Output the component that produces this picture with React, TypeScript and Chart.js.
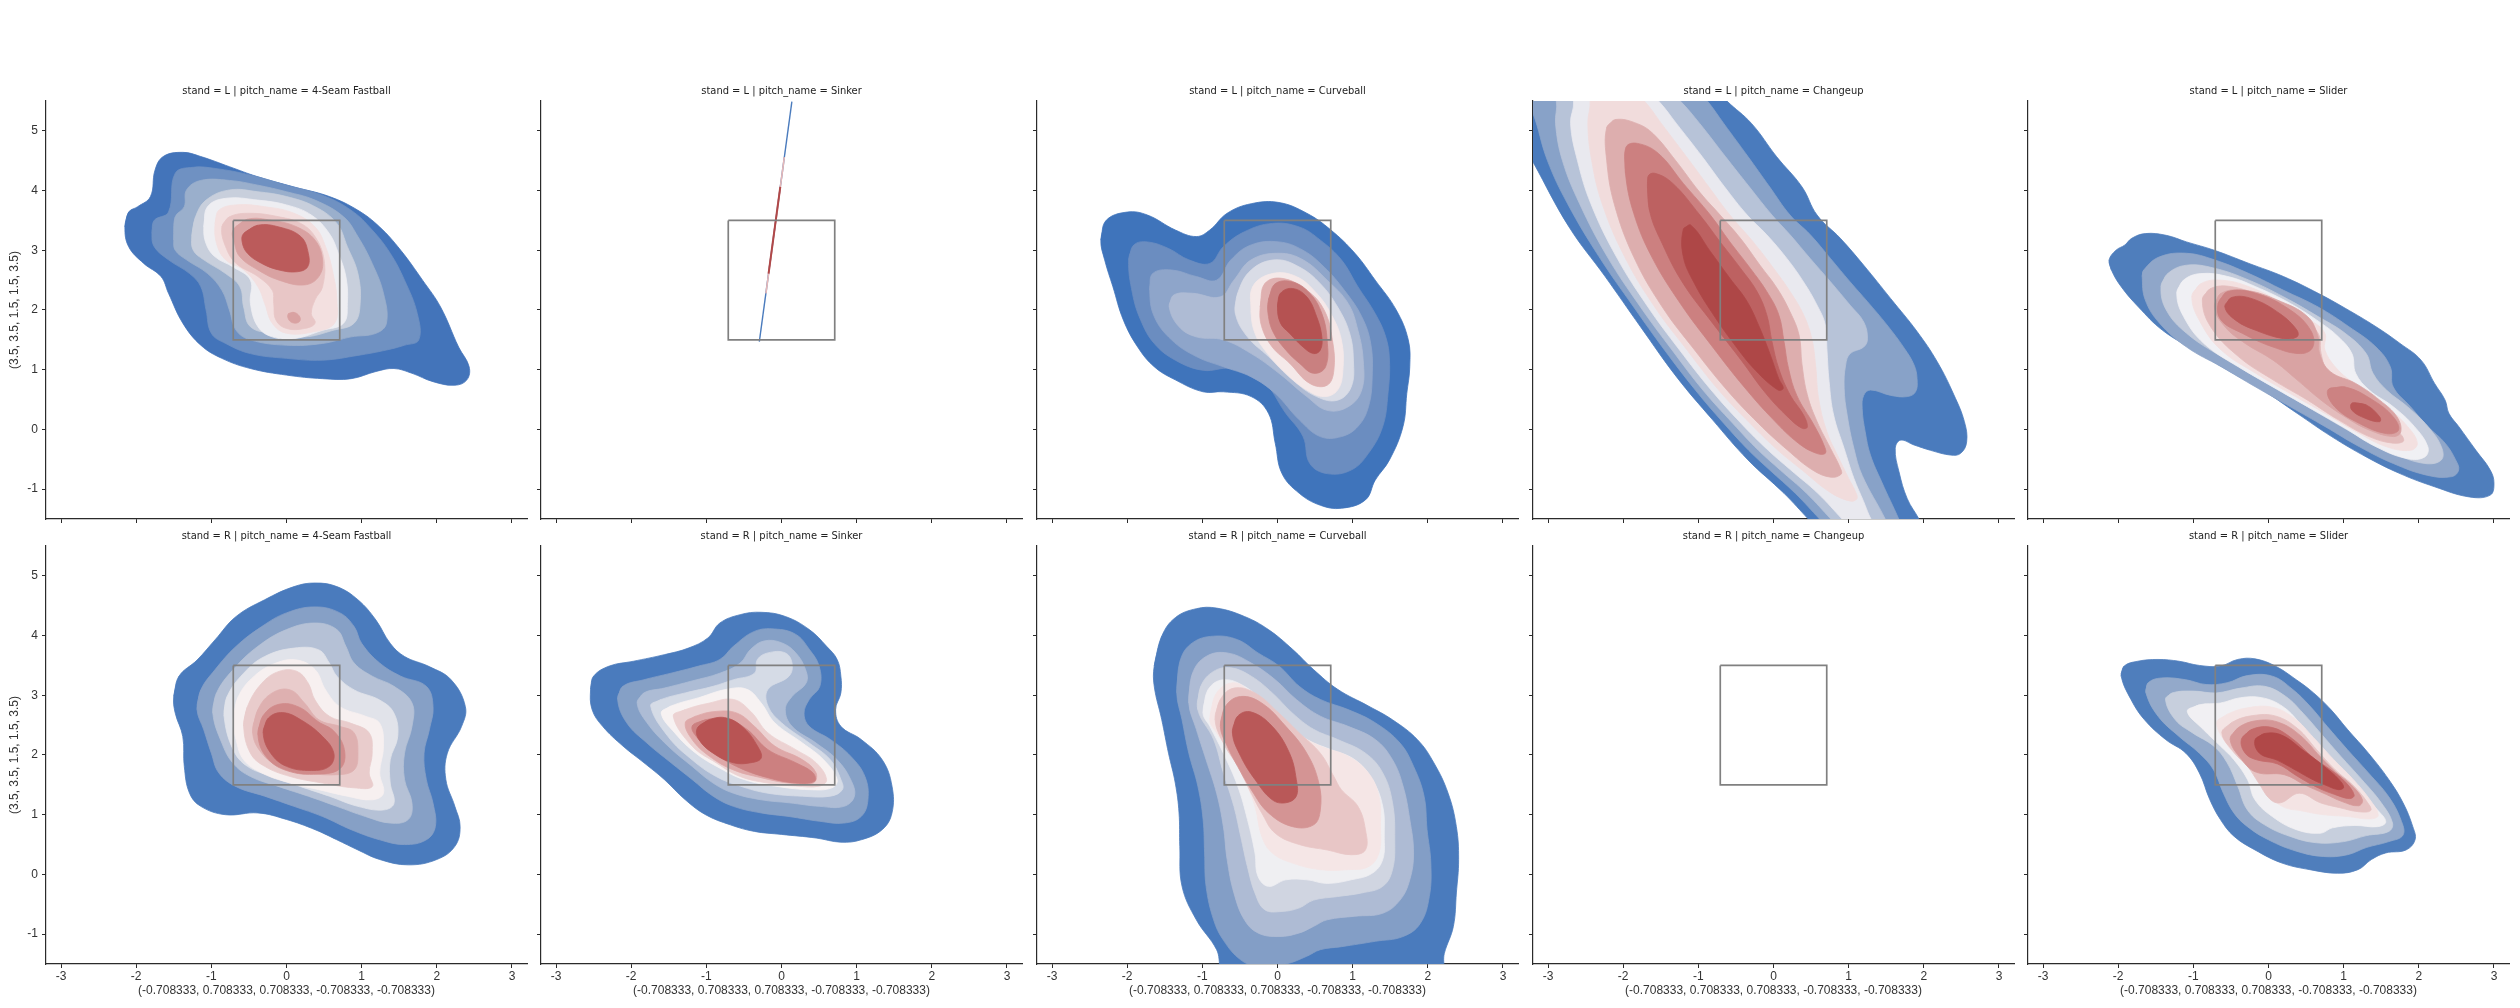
import React, { useEffect, useRef } from 'react';
import { Chart, registerables } from 'chart.js';

Chart.register(...registerables);

type P = [number, number];

// ---------- axes / facets ----------
const X_TICKS = [-3, -2, -1, 0, 1, 2, 3];
const Y_TICKS = [-1, 0, 1, 2, 3, 4, 5];
const X_MIN = -3.2, X_MAX = 3.2, Y_MIN = -1.5, Y_MAX = 5.5;
const STANDS = ['L', 'R'];
const PITCHES = ['4-Seam Fastball', 'Sinker', 'Curveball', 'Changeup', 'Slider'];
const ZONE_X = [-0.708333, 0.708333, 0.708333, -0.708333, -0.708333];
const ZONE_Y = [3.5, 3.5, 1.5, 1.5, 3.5];

// ---------- contour polygons (plate_x, plate_z), outer level -> inner level ----------
const L_FF: P[][] = [
  [[-2.15,3.39],[-2.1,3.64],[-1.98,3.73],[-1.81,3.9],[-1.75,4.34],[-1.64,4.57],[-1.38,4.64],[-1.14,4.57],[-0.76,4.4],[-0.38,4.23],[0.1,4.06],[0.57,3.9],[0.95,3.67],[1.24,3.39],[1.52,3.0],[1.81,2.5],[2.05,2.05],[2.29,1.38],[2.43,1.05],[2.4,0.83],[2.24,0.74],[1.95,0.8],[1.67,0.94],[1.43,1.02],[1.19,0.97],[0.86,0.85],[0.48,0.85],[0,0.91],[-0.48,1.02],[-0.86,1.19],[-1.14,1.41],[-1.38,1.78],[-1.57,2.28],[-1.67,2.56],[-1.9,2.78],[-2.1,3.06]],
  [[-1.79,3.28],[-1.76,3.5],[-1.57,3.64],[-1.48,4.29],[-1.24,4.39],[-0.95,4.37],[-0.48,4.26],[0,4.09],[0.48,3.92],[0.86,3.67],[1.14,3.34],[1.38,2.95],[1.57,2.5],[1.74,1.94],[1.76,1.5],[1.57,1.41],[1.33,1.33],[0.95,1.24],[0.48,1.16],[0,1.19],[-0.48,1.27],[-0.81,1.44],[-1.0,1.61],[-1.07,2.0],[-1.14,2.39],[-1.29,2.61],[-1.57,2.84],[-1.76,3.06]],
  [[-1.5,3.17],[-1.48,3.56],[-1.36,3.73],[-1.33,4.01],[-1.14,4.17],[-0.76,4.17],[-0.38,4.09],[0,3.98],[0.38,3.84],[0.76,3.56],[0.95,3.23],[1.14,2.78],[1.29,2.28],[1.33,1.78],[1.19,1.61],[0.86,1.55],[0.48,1.44],[0,1.41],[-0.48,1.5],[-0.67,1.66],[-0.76,2.0],[-0.86,2.33],[-1.05,2.61],[-1.33,2.84],[-1.48,3.0]],
  [[-1.26,3.23],[-1.21,3.56],[-1.07,3.84],[-0.76,4.01],[-0.38,3.98],[0,3.9],[0.38,3.73],[0.67,3.45],[0.81,3.06],[0.95,2.61],[0.98,2.11],[0.9,1.78],[0.62,1.66],[0.24,1.55],[-0.19,1.61],[-0.48,1.72],[-0.57,2.05],[-0.62,2.39],[-0.81,2.61],[-1.1,2.84],[-1.24,3.0]],
  [[-1.1,3.39],[-1.05,3.73],[-0.81,3.87],[-0.38,3.84],[0,3.76],[0.33,3.59],[0.57,3.28],[0.69,2.95],[0.79,2.56],[0.81,2.11],[0.76,1.78],[0.48,1.66],[0.1,1.52],[-0.19,1.55],[-0.38,1.72],[-0.48,2.11],[-0.48,2.5],[-0.71,2.72],[-0.95,2.89],[-1.07,3.11]],
  [[-0.95,3.45],[-0.9,3.67],[-0.67,3.76],[-0.29,3.73],[0.1,3.62],[0.38,3.39],[0.52,3.06],[0.62,2.61],[0.67,2.17],[0.64,1.78],[0.38,1.64],[0,1.61],[-0.19,1.78],[-0.29,2.11],[-0.38,2.39],[-0.57,2.67],[-0.81,2.84],[-0.93,3.11]],
  [[-0.86,3.39],[-0.76,3.56],[-0.48,3.62],[-0.1,3.56],[0.19,3.45],[0.38,3.23],[0.5,2.84],[0.48,2.39],[0.38,2.17],[0.33,1.94],[0.38,1.78],[0.24,1.69],[0,1.69],[-0.14,1.83],[-0.17,2.11],[-0.19,2.33],[-0.38,2.56],[-0.67,2.78],[-0.81,3.06]],
  [[-0.71,3.34],[-0.52,3.52],[-0.19,3.5],[0.14,3.39],[0.38,3.17],[0.48,2.84],[0.43,2.56],[0.24,2.42],[-0.1,2.5],[-0.38,2.67],[-0.62,2.89],[-0.69,3.11]],
  [[0.02,1.93],[0.1,1.96],[0.17,1.9],[0.18,1.82],[0.12,1.78],[0.04,1.82]],
  [[-0.57,3.28],[-0.38,3.42],[-0.1,3.39],[0.19,3.23],[0.29,2.95],[0.28,2.72],[0.14,2.64],[-0.1,2.67],[-0.33,2.78],[-0.52,2.95],[-0.59,3.14]],
];
const L_FF_LEVELS = [0, 1, 2, 3, 4, 5, 6, 7, 7, 8];

const L_SI_LINES: P[][] = [
  [[-0.295,1.47],[0.138,5.49]],
  [[-0.207,2.28],[0.038,4.56]],
  [[-0.172,2.61],[-0.016,4.06]],
];
const L_SI_LEVELS = [0, 5, 8];

const L_CB: P[][] = [
  [[-2.35,3.17],[-2.28,3.5],[-2.0,3.64],[-1.73,3.59],[-1.36,3.34],[-1.08,3.23],[-0.9,3.34],[-0.67,3.62],[-0.35,3.78],[0.02,3.8],[0.39,3.62],[0.71,3.34],[1.03,2.95],[1.3,2.5],[1.58,2.0],[1.74,1.5],[1.76,1.05],[1.72,0.6],[1.67,0.05],[1.49,-0.51],[1.3,-0.85],[1.17,-1.18],[0.85,-1.32],[0.57,-1.27],[0.29,-1.07],[0.06,-0.74],[-0.03,-0.23],[-0.12,0.27],[-0.35,0.55],[-0.72,0.63],[-0.99,0.63],[-1.36,0.83],[-1.64,1.05],[-1.86,1.38],[-2.05,1.83],[-2.19,2.39],[-2.3,2.84]],
  [[-1.98,2.84],[-1.91,3.09],[-1.73,3.14],[-1.45,3.03],[-1.18,2.84],[-0.9,2.78],[-0.72,3.06],[-0.44,3.31],[-0.07,3.45],[0.29,3.39],[0.57,3.17],[0.85,2.84],[1.07,2.39],[1.3,1.94],[1.44,1.55],[1.49,1.16],[1.47,0.6],[1.4,0.05],[1.21,-0.4],[0.98,-0.68],[0.66,-0.74],[0.43,-0.57],[0.34,-0.12],[0.11,0.27],[-0.21,0.83],[-0.62,1.02],[-0.99,0.99],[-1.36,1.16],[-1.64,1.44],[-1.82,1.83],[-1.93,2.28]],
  [[-1.7,2.33],[-1.66,2.61],[-1.41,2.67],[-1.08,2.56],[-0.81,2.5],[-0.62,2.84],[-0.35,3.09],[0.02,3.14],[0.34,3.0],[0.62,2.72],[0.89,2.33],[1.12,1.89],[1.24,1.44],[1.26,0.88],[1.21,0.38],[1.07,0.05],[0.85,-0.12],[0.57,-0.12],[0.29,0.16],[-0.03,0.6],[-0.35,0.88],[-0.72,1.05],[-1.08,1.22],[-1.41,1.5],[-1.64,1.89]],
  [[-1.44,2.05],[-1.38,2.25],[-1.13,2.28],[-0.76,2.22],[-0.58,2.5],[-0.35,2.84],[0.02,2.95],[0.34,2.84],[0.66,2.5],[0.94,2.11],[1.07,1.66],[1.14,1.16],[1.12,0.66],[0.94,0.38],[0.66,0.32],[0.39,0.55],[0.02,0.94],[-0.35,1.27],[-0.72,1.5],[-1.08,1.55],[-1.31,1.72]],
  [[-0.56,1.94],[-0.53,2.28],[-0.35,2.67],[-0.03,2.84],[0.29,2.72],[0.57,2.44],[0.8,2.05],[0.96,1.61],[1.01,1.16],[0.98,0.71],[0.8,0.49],[0.52,0.55],[0.2,0.83],[-0.12,1.22],[-0.4,1.55]],
  [[-0.35,1.94],[-0.33,2.39],[-0.07,2.61],[0.25,2.56],[0.52,2.28],[0.71,1.94],[0.85,1.5],[0.87,0.99],[0.8,0.66],[0.62,0.55],[0.39,0.66],[0.11,0.94],[-0.17,1.33],[-0.3,1.61]],
  [[-0.23,2.05],[-0.17,2.44],[0.06,2.53],[0.39,2.33],[0.62,2.0],[0.73,1.5],[0.75,0.99],[0.66,0.74],[0.43,0.77],[0.16,1.11],[-0.07,1.38],[-0.21,1.72]],
  [[-0.12,2.17],[-0.03,2.44],[0.2,2.47],[0.43,2.28],[0.59,1.94],[0.66,1.5],[0.64,1.05],[0.48,0.94],[0.29,1.11],[0.11,1.33],[-0.05,1.61],[-0.12,1.89]],
  [[0.0,2.05],[0.04,2.28],[0.2,2.36],[0.39,2.22],[0.52,1.89],[0.59,1.55],[0.57,1.33],[0.48,1.27],[0.34,1.38],[0.16,1.61],[0.04,1.78]],
];
const L_CB_LEVELS = [0, 1, 2, 3, 4, 5, 6, 7, 8];

const L_CH: P[][] = [
  [[-3.6,5.8],[-3.48,5.12],[-3.2,4.48],[-2.72,3.39],[-2.24,2.56],[-1.77,1.72],[-1.29,0.88],[-0.81,0.16],[-0.34,-0.51],[0.14,-1.07],[0.47,-1.51],[0.69,-1.8],[2.05,-1.8],[1.94,-1.51],[1.78,-1.16],[1.67,-0.71],[1.62,-0.32],[1.69,-0.18],[1.87,-0.26],[2.09,-0.35],[2.36,-0.43],[2.49,-0.4],[2.57,-0.21],[2.54,0.13],[2.4,0.58],[2.18,1.13],[1.91,1.64],[1.56,2.19],[1.2,2.75],[0.89,3.2],[0.58,3.59],[0.38,4.06],[0.04,4.57],[-0.29,5.12],[-0.62,5.5],[-0.85,5.8]],
  [[-3.4,5.8],[-3.2,5.29],[-3.01,4.51],[-2.74,3.78],[-2.32,2.89],[-1.86,2.05],[-1.45,1.33],[-1.04,0.66],[-0.66,0.1],[-0.33,-0.35],[-0.05,-0.68],[0.29,-1.07],[0.62,-1.51],[0.84,-1.8],[1.76,-1.8],[1.67,-1.51],[1.44,-0.88],[1.29,-0.43],[1.22,-0.04],[1.18,0.35],[1.2,0.57],[1.29,0.66],[1.56,0.57],[1.78,0.55],[1.89,0.63],[1.91,0.85],[1.87,1.08],[1.74,1.36],[1.51,1.75],[1.25,2.14],[1.02,2.47],[0.76,2.86],[0.49,3.26],[0.22,3.59],[-0.05,4.06],[-0.34,4.57],[-0.66,5.12],[-0.88,5.5],[-1.1,5.8]],
  [[-3.0,5.8],[-2.89,5.5],[-2.9,5.12],[-2.81,4.51],[-2.58,3.78],[-2.21,2.89],[-1.77,2.05],[-1.35,1.33],[-0.94,0.66],[-0.54,0.1],[-0.2,-0.35],[0.09,-0.68],[0.44,-1.07],[0.77,-1.51],[0.99,-1.8],[1.58,-1.8],[1.49,-1.51],[1.18,-0.77],[1.07,-0.32],[0.98,0.24],[0.94,0.69],[0.96,1.08],[1.02,1.27],[1.2,1.38],[1.25,1.52],[1.2,1.8],[1.02,2.08],[0.76,2.47],[0.49,2.86],[0.22,3.26],[-0.02,3.59],[-0.32,4.06],[-0.64,4.57],[-0.98,5.12],[-1.24,5.5],[-1.5,5.8]],
  [[-2.75,5.8],[-2.66,5.5],[-2.7,5.12],[-2.61,4.51],[-2.43,3.78],[-2.09,2.89],[-1.67,2.05],[-1.25,1.33],[-0.83,0.66],[-0.43,0.1],[-0.07,-0.35],[0.23,-0.68],[0.59,-1.07],[0.92,-1.51],[1.14,-1.8],[1.4,-1.8],[1.27,-1.43],[1.2,-1.21],[1.07,-0.82],[0.94,-0.32],[0.8,0.24],[0.74,0.8],[0.71,1.36],[0.69,1.75],[0.58,2.08],[0.4,2.47],[0.18,2.86],[-0.09,3.26],[-0.35,3.59],[-0.65,4.06],[-0.95,4.57],[-1.29,5.12],[-1.53,5.5],[-1.8,5.8]],
  [[-2.5,5.8],[-2.44,5.5],[-2.47,5.12],[-2.42,4.51],[-2.28,3.78],[-1.98,2.89],[-1.58,2.05],[-1.15,1.33],[-0.73,0.66],[-0.31,0.1],[0.06,-0.35],[0.38,-0.68],[0.75,-1.05],[1.02,-1.2],[1.11,-1.16],[1.09,-1.04],[1.0,-0.82],[0.85,-0.43],[0.71,-0.04],[0.6,0.52],[0.56,1.08],[0.51,1.52],[0.4,1.92],[0.22,2.31],[0.0,2.7],[-0.27,3.14],[-0.58,3.59],[-0.86,4.06],[-1.16,4.57],[-1.49,5.12],[-1.72,5.5],[-2.0,5.8]],
  [[-2.1,5.19],[-2.22,5.05],[-2.22,4.51],[-2.12,3.78],[-1.86,2.89],[-1.48,2.05],[-1.05,1.33],[-0.62,0.66],[-0.2,0.1],[0.19,-0.35],[0.52,-0.68],[0.76,-0.8],[0.9,-0.75],[0.89,-0.65],[0.76,-0.32],[0.58,0.13],[0.45,0.58],[0.38,1.08],[0.34,1.58],[0.22,1.97],[0.05,2.36],[-0.18,2.75],[-0.44,3.2],[-0.71,3.59],[-0.98,3.97],[-1.3,4.5],[-1.6,4.95],[-1.81,5.12]],
  [[-1.96,4.73],[-1.97,4.29],[-1.86,3.62],[-1.62,2.89],[-1.24,2.11],[-0.81,1.38],[-0.39,0.71],[0.0,0.16],[0.33,-0.23],[0.57,-0.4],[0.69,-0.4],[0.67,-0.26],[0.54,0.07],[0.31,0.57],[0.2,1.02],[0.14,1.47],[0.07,1.92],[-0.09,2.31],[-0.31,2.7],[-0.58,3.14],[-0.84,3.59],[-1.2,4.12],[-1.53,4.62],[-1.81,4.79]],
  [[-1.67,4.23],[-1.65,3.67],[-1.48,3.11],[-1.2,2.44],[-0.81,1.78],[-0.43,1.16],[-0.1,0.6],[0.19,0.21],[0.38,0.02],[0.45,0.04],[0.4,0.24],[0.22,0.58],[0.07,1.02],[-0.02,1.47],[-0.09,1.92],[-0.22,2.31],[-0.44,2.7],[-0.71,3.14],[-0.98,3.59],[-1.34,4.12],[-1.58,4.29]],
  [[-1.2,3.35],[-1.1,3.42],[-0.84,2.98],[-0.58,2.53],[-0.35,2.14],[-0.18,1.69],[-0.04,1.24],[0.07,0.85],[0.13,0.69],[0.06,0.66],[-0.24,0.99],[-0.53,1.44],[-0.81,1.94],[-1.05,2.44],[-1.2,2.89]],
];
const L_CH_LEVELS = [0, 1, 2, 3, 4, 5, 6, 7, 8];

const L_SL: P[][] = [
  [[-2.12,2.84],[-2.09,2.67],[-1.96,2.39],[-1.73,2.05],[-1.41,1.66],[-0.99,1.33],[-0.54,0.99],[-0.08,0.66],[0.38,0.27],[0.84,-0.12],[1.3,-0.46],[1.75,-0.74],[2.21,-0.96],[2.67,-1.13],[2.95,-1.1],[3.0,-0.9],[2.95,-0.68],[2.76,-0.35],[2.53,0.05],[2.4,0.27],[2.35,0.49],[2.21,0.77],[2.03,1.16],[1.75,1.44],[1.43,1.72],[1.02,2.03],[0.66,2.28],[0.2,2.56],[-0.26,2.78],[-0.72,3.0],[-1.09,3.14],[-1.36,3.25],[-1.64,3.28],[-1.82,3.2],[-1.91,3.09],[-2.03,3.0]],
  [[-1.68,2.56],[-1.66,2.67],[-1.45,2.89],[-1.09,2.95],[-0.72,2.84],[-0.26,2.61],[0.2,2.33],[0.66,2.05],[1.07,1.72],[1.43,1.38],[1.62,1.05],[1.66,0.71],[1.89,0.38],[2.12,0.05],[2.35,-0.23],[2.49,-0.51],[2.53,-0.68],[2.44,-0.79],[2.12,-0.77],[1.66,-0.57],[1.21,-0.29],[0.75,0.05],[0.29,0.38],[-0.17,0.71],[-0.63,1.05],[-1.09,1.38],[-1.45,1.78],[-1.64,2.17]],
  [[-1.43,2.39],[-1.34,2.61],[-1.09,2.75],[-0.72,2.7],[-0.26,2.5],[0.2,2.22],[0.66,1.89],[1.02,1.61],[1.3,1.27],[1.39,0.94],[1.57,0.66],[1.85,0.38],[2.12,0.05],[2.3,-0.29],[2.3,-0.51],[2.08,-0.57],[1.66,-0.4],[1.21,-0.12],[0.75,0.21],[0.29,0.55],[-0.17,0.88],[-0.63,1.22],[-1.09,1.61],[-1.36,2.0]],
  [[-1.22,2.28],[-1.13,2.5],[-0.9,2.61],[-0.54,2.56],[-0.17,2.39],[0.29,2.11],[0.7,1.78],[0.93,1.55],[1.11,1.27],[1.16,0.94],[1.34,0.66],[1.66,0.38],[1.94,0.05],[2.12,-0.29],[2.08,-0.46],[1.85,-0.49],[1.43,-0.29],[0.98,0.05],[0.52,0.38],[0.06,0.71],[-0.4,1.05],[-0.86,1.44],[-1.13,1.89]],
  [[-1.02,2.22],[-0.9,2.44],[-0.63,2.5],[-0.26,2.39],[0.2,2.11],[0.56,1.83],[0.75,1.61],[0.75,1.33],[0.93,0.99],[1.21,0.71],[1.57,0.38],[1.85,0.05],[1.98,-0.23],[1.89,-0.35],[1.57,-0.29],[1.21,-0.07],[0.75,0.27],[0.29,0.6],[-0.17,0.94],[-0.63,1.33],[-0.9,1.78]],
  [[-0.88,2.17],[-0.77,2.36],[-0.49,2.39],[-0.08,2.22],[0.38,1.94],[0.66,1.61],[0.7,1.27],[0.79,0.94],[1.02,0.71],[1.39,0.38],[1.66,0.05],[1.8,-0.18],[1.66,-0.23],[1.34,-0.12],[0.93,0.16],[0.52,0.49],[0.06,0.83],[-0.4,1.22],[-0.77,1.72]],
  [[-0.72,2.05],[-0.63,2.28],[-0.31,2.33],[0.11,2.17],[0.52,1.89],[0.66,1.55],[0.68,1.27],[0.82,0.97],[1.16,0.77],[1.48,0.49],[1.71,0.21],[1.76,-0.04],[1.66,-0.12],[1.34,-0.01],[1.02,0.21],[0.7,0.49],[0.38,0.83],[0.06,1.16],[-0.31,1.44],[-0.58,1.72]],
  [[-0.67,2.11],[-0.54,2.31],[-0.17,2.28],[0.29,2.0],[0.56,1.66],[0.59,1.38],[0.43,1.27],[0.06,1.38],[-0.35,1.61],[-0.63,1.83]],
  [[0.79,0.66],[1.02,0.71],[1.39,0.49],[1.66,0.21],[1.73,-0.01],[1.57,-0.07],[1.21,0.1],[0.88,0.38]],
  [[-0.58,2.05],[-0.49,2.21],[-0.22,2.19],[0.15,1.94],[0.38,1.66],[0.38,1.55],[0.2,1.52],[-0.17,1.66],[-0.44,1.83]],
  [[1.11,0.44],[1.3,0.41],[1.48,0.21],[1.48,0.13],[1.3,0.18],[1.11,0.32]],
];
const L_SL_LEVELS = [0, 1, 2, 3, 4, 5, 6, 7, 7, 8, 8];

const R_FF: P[][] = [
  [[-1.5,2.98],[-1.43,3.32],[-1.19,3.59],[-0.95,3.93],[-0.67,4.32],[-0.29,4.6],[0.1,4.82],[0.38,4.88],[0.67,4.82],[0.95,4.6],[1.19,4.26],[1.38,3.87],[1.57,3.65],[1.9,3.48],[2.19,3.26],[2.38,2.81],[2.33,2.48],[2.14,2.03],[2.12,1.59],[2.24,1.14],[2.31,0.8],[2.24,0.47],[2.0,0.25],[1.62,0.16],[1.24,0.25],[0.95,0.41],[0.67,0.58],[0.38,0.75],[0,0.92],[-0.38,1.03],[-0.81,1.0],[-1.14,1.14],[-1.29,1.36],[-1.36,1.81],[-1.38,2.31],[-1.48,2.7]],
  [[-1.19,2.76],[-1.14,3.09],[-0.95,3.43],[-0.67,3.82],[-0.33,4.15],[0,4.38],[0.38,4.48],[0.71,4.38],[0.9,4.15],[1.0,3.87],[1.24,3.54],[1.52,3.32],[1.86,3.15],[1.95,2.81],[1.9,2.42],[1.83,2.03],[1.86,1.59],[1.95,1.19],[1.98,0.8],[1.86,0.58],[1.57,0.5],[1.24,0.58],[0.86,0.75],[0.48,0.97],[0.1,1.14],[-0.29,1.31],[-0.67,1.47],[-0.9,1.7],[-1.0,2.03],[-1.1,2.42]],
  [[-0.98,2.7],[-0.93,3.04],[-0.71,3.43],[-0.38,3.82],[0,4.1],[0.38,4.21],[0.67,4.1],[0.79,3.82],[0.9,3.54],[1.14,3.32],[1.43,3.15],[1.67,2.87],[1.67,2.48],[1.57,2.03],[1.57,1.59],[1.67,1.19],[1.62,0.92],[1.38,0.86],[1.05,0.97],[0.67,1.14],[0.29,1.31],[-0.1,1.47],[-0.48,1.64],[-0.71,1.86],[-0.86,2.2]],
  [[-0.83,2.65],[-0.79,2.98],[-0.57,3.37],[-0.29,3.65],[0.1,3.79],[0.43,3.76],[0.57,3.54],[0.67,3.32],[0.9,3.09],[1.24,2.92],[1.43,2.7],[1.48,2.31],[1.38,1.92],[1.38,1.53],[1.43,1.19],[1.29,1.08],[0.95,1.14],[0.57,1.31],[0.19,1.47],[-0.19,1.64],[-0.52,1.81],[-0.71,2.09]],
  [[-0.71,2.59],[-0.64,2.98],[-0.43,3.32],[-0.14,3.54],[0.14,3.59],[0.38,3.43],[0.52,3.09],[0.71,2.81],[1.05,2.65],[1.24,2.53],[1.29,2.14],[1.24,1.7],[1.29,1.36],[1.14,1.25],[0.81,1.31],[0.43,1.42],[0.05,1.53],[-0.33,1.7],[-0.57,1.92],[-0.67,2.25]],
  [[-0.57,2.48],[-0.52,2.81],[-0.33,3.2],[-0.1,3.4],[0.14,3.4],[0.29,3.2],[0.38,2.92],[0.57,2.65],[0.86,2.53],[1.1,2.37],[1.14,2.03],[1.1,1.7],[1.14,1.47],[0.9,1.45],[0.48,1.53],[0.05,1.64],[-0.29,1.81],[-0.48,2.03]],
  [[-0.45,2.37],[-0.38,2.76],[-0.19,3.04],[0.05,3.09],[0.24,2.87],[0.43,2.59],[0.71,2.48],[0.9,2.37],[0.95,2.03],[0.9,1.75],[0.67,1.67],[0.29,1.7],[-0.1,1.81],[-0.33,2.03]],
  [[-0.38,2.34],[-0.31,2.66],[-0.1,2.85],[0.17,2.8],[0.42,2.56],[0.63,2.4],[0.77,2.09],[0.72,1.78],[0.42,1.68],[0,1.74],[-0.27,1.97]],
  [[-0.31,2.37],[-0.24,2.62],[-0.05,2.71],[0.19,2.59],[0.48,2.31],[0.63,2.03],[0.57,1.81],[0.33,1.74],[0,1.81],[-0.21,2.03]],
];
const R_FF_LEVELS = [0, 1, 2, 3, 4, 5, 6, 7, 8];

const R_SI: P[][] = [
  [[-2.54,3.1],[-2.5,3.32],[-2.29,3.49],[-1.97,3.57],[-1.56,3.68],[-1.24,3.79],[-0.98,3.96],[-0.82,4.21],[-0.55,4.35],[-0.27,4.39],[0.05,4.32],[0.37,4.1],[0.6,3.82],[0.74,3.6],[0.79,3.32],[0.79,3.04],[0.72,2.76],[0.79,2.48],[1.06,2.26],[1.34,1.92],[1.47,1.48],[1.47,1.03],[1.34,0.75],[1.06,0.58],[0.79,0.54],[0.46,0.61],[0.0,0.67],[-0.36,0.72],[-0.68,0.83],[-1.01,1.0],[-1.28,1.25],[-1.56,1.59],[-1.83,1.87],[-2.11,2.15],[-2.38,2.48],[-2.52,2.76]],
  [[-2.18,2.93],[-2.11,3.15],[-1.83,3.26],[-1.47,3.37],[-1.1,3.49],[-0.82,3.6],[-0.64,3.82],[-0.36,4.07],[-0.09,4.11],[0.19,4.02],[0.37,3.77],[0.5,3.49],[0.51,3.15],[0.37,2.93],[0.3,2.7],[0.37,2.48],[0.65,2.26],[0.92,1.98],[1.11,1.64],[1.15,1.25],[1.06,0.97],[0.83,0.86],[0.51,0.89],[0.1,0.97],[-0.27,1.03],[-0.64,1.14],[-0.91,1.31],[-1.19,1.59],[-1.47,1.87],[-1.79,2.2],[-2.06,2.54]],
  [[-1.92,2.87],[-1.83,3.04],[-1.56,3.12],[-1.19,3.24],[-0.82,3.37],[-0.55,3.54],[-0.41,3.77],[-0.23,3.91],[0.0,3.88],[0.19,3.71],[0.32,3.43],[0.33,3.21],[0.14,2.98],[0.05,2.76],[0.14,2.48],[0.46,2.2],[0.74,1.92],[0.92,1.59],[0.97,1.31],[0.83,1.14],[0.51,1.14],[0.1,1.2],[-0.27,1.25],[-0.64,1.36],[-0.91,1.53],[-1.19,1.81],[-1.51,2.15],[-1.79,2.54]],
  [[-1.74,2.82],[-1.6,2.93],[-1.28,3.04],[-0.91,3.15],[-0.64,3.26],[-0.36,3.37],[-0.32,3.6],[-0.18,3.71],[0.05,3.71],[0.14,3.54],[0.1,3.32],[-0.18,3.1],[-0.18,2.82],[0.0,2.54],[0.37,2.2],[0.65,1.92],[0.79,1.59],[0.81,1.42],[0.65,1.31],[0.28,1.31],[-0.18,1.36],[-0.55,1.48],[-0.87,1.64],[-1.19,1.92],[-1.51,2.31]],
  [[-1.6,2.7],[-1.47,2.82],[-1.1,2.96],[-0.73,3.1],[-0.46,3.1],[-0.27,2.87],[-0.09,2.54],[0.28,2.2],[0.56,1.92],[0.74,1.59],[0.67,1.45],[0.37,1.42],[-0.09,1.48],[-0.5,1.59],[-0.82,1.78],[-1.14,2.03],[-1.42,2.37]],
  [[-1.44,2.65],[-1.28,2.76],[-0.96,2.87],[-0.64,2.93],[-0.41,2.73],[-0.18,2.37],[0.19,2.09],[0.46,1.87],[0.6,1.59],[0.51,1.48],[0.19,1.48],[-0.18,1.53],[-0.55,1.64],[-0.87,1.87],[-1.19,2.15]],
  [[-1.28,2.54],[-1.14,2.65],[-0.87,2.73],[-0.59,2.7],[-0.36,2.48],[-0.09,2.15],[0.28,1.92],[0.46,1.7],[0.42,1.53],[0.1,1.53],[-0.27,1.62],[-0.64,1.75],[-0.96,1.98],[-1.19,2.26]],
  [[-1.19,2.48],[-1.01,2.59],[-0.73,2.6],[-0.46,2.43],[-0.18,2.09],[0.19,1.87],[0.42,1.7],[0.44,1.56],[0.19,1.53],[-0.18,1.62],[-0.55,1.78],[-0.87,2.01],[-1.1,2.26]],
  [[-1.12,2.45],[-0.96,2.59],[-0.73,2.62],[-0.5,2.45],[-0.32,2.15],[-0.27,1.95],[-0.41,1.87],[-0.64,1.87],[-0.91,2.03],[-1.1,2.26]],
];
const R_SI_LEVELS = [0, 1, 2, 3, 4, 5, 6, 7, 8];

const R_CB: P[][] = [
  [[-1.64,3.49],[-1.54,3.99],[-1.36,4.3],[-1.08,4.45],[-0.81,4.46],[-0.44,4.32],[-0.12,4.1],[0.2,3.77],[0.48,3.43],[0.8,3.1],[1.21,2.82],[1.53,2.59],[1.86,2.26],[2.08,1.87],[2.27,1.36],[2.38,0.8],[2.41,0.25],[2.38,-0.31],[2.34,-0.87],[2.22,-1.32],[2.15,-1.77],[-0.67,-1.77],[-0.81,-1.26],[-1.08,-0.76],[-1.27,-0.2],[-1.3,0.47],[-1.31,1.03],[-1.36,1.53],[-1.45,2.03],[-1.54,2.59],[-1.64,3.15]],
  [[-1.34,3.04],[-1.29,3.6],[-1.13,3.88],[-0.85,3.99],[-0.53,3.93],[-0.26,3.71],[0.02,3.49],[0.29,3.15],[0.57,2.93],[0.94,2.76],[1.3,2.54],[1.63,2.2],[1.81,1.81],[1.95,1.31],[1.99,0.75],[2.04,0.19],[2.02,-0.37],[1.9,-0.82],[1.67,-1.04],[1.3,-1.12],[0.85,-1.21],[0.57,-1.26],[0.39,-1.37],[0.11,-1.5],[-0.26,-1.54],[-0.49,-1.43],[-0.72,-1.1],[-0.85,-0.76],[-0.95,-0.2],[-0.97,0.36],[-0.99,0.92],[-1.06,1.48],[-1.18,2.03],[-1.27,2.59]],
  [[-1.18,2.87],[-1.13,3.37],[-0.95,3.65],[-0.67,3.71],[-0.35,3.54],[-0.03,3.26],[0.25,2.93],[0.57,2.65],[0.94,2.48],[1.3,2.26],[1.53,1.92],[1.67,1.48],[1.76,0.92],[1.81,0.36],[1.76,-0.09],[1.63,-0.43],[1.4,-0.65],[1.03,-0.7],[0.66,-0.76],[0.48,-0.87],[0.29,-0.98],[0.02,-1.04],[-0.26,-0.98],[-0.44,-0.76],[-0.58,-0.31],[-0.67,0.25],[-0.72,0.8],[-0.81,1.36],[-0.95,1.92],[-1.08,2.43]],
  [[-1.06,2.76],[-1.02,3.15],[-0.85,3.4],[-0.62,3.46],[-0.35,3.32],[-0.07,3.04],[0.2,2.7],[0.48,2.43],[0.8,2.26],[1.17,2.03],[1.4,1.7],[1.53,1.2],[1.56,0.58],[1.53,0.08],[1.4,-0.2],[1.12,-0.31],[0.8,-0.37],[0.48,-0.43],[0.29,-0.56],[0.06,-0.62],[-0.17,-0.59],[-0.3,-0.31],[-0.4,0.13],[-0.49,0.64],[-0.58,1.14],[-0.72,1.7],[-0.85,2.26]],
  [[-0.99,2.7],[-0.92,3.1],[-0.72,3.26],[-0.44,3.15],[-0.17,2.87],[0.11,2.54],[0.39,2.26],[0.71,2.09],[1.03,1.92],[1.26,1.59],[1.4,1.14],[1.42,0.64],[1.4,0.25],[1.26,0.02],[0.98,-0.09],[0.66,-0.15],[0.39,-0.09],[0.11,-0.09],[-0.12,-0.2],[-0.26,-0.03],[-0.3,0.36],[-0.4,0.92],[-0.53,1.48],[-0.72,2.03],[-0.9,2.48]],
  [[-0.9,2.59],[-0.81,3.04],[-0.58,3.21],[-0.35,3.04],[-0.07,2.7],[0.25,2.37],[0.57,2.15],[0.94,1.98],[1.21,1.7],[1.35,1.31],[1.37,0.8],[1.35,0.36],[1.21,0.13],[0.94,0.08],[0.57,0.08],[0.2,0.19],[-0.07,0.36],[-0.21,0.64],[-0.3,1.14],[-0.44,1.59],[-0.62,2.03],[-0.81,2.37]],
  [[-0.83,2.59],[-0.76,2.93],[-0.58,3.12],[-0.3,3.04],[0.02,2.7],[0.29,2.37],[0.57,2.03],[0.75,1.64],[0.85,1.42],[1.07,1.14],[1.17,0.75],[1.17,0.41],[0.98,0.33],[0.66,0.41],[0.29,0.5],[-0.03,0.69],[-0.21,1.03],[-0.35,1.36],[-0.53,1.81],[-0.72,2.2]],
  [[-0.76,2.48],[-0.69,2.82],[-0.49,2.98],[-0.21,2.87],[0.11,2.48],[0.39,2.03],[0.55,1.53],[0.57,1.08],[0.48,0.83],[0.2,0.8],[-0.12,1.03],[-0.35,1.42],[-0.53,1.81],[-0.67,2.15]],
  [[-0.6,2.37],[-0.53,2.65],[-0.35,2.72],[-0.07,2.48],[0.16,2.03],[0.25,1.59],[0.25,1.31],[0.11,1.2],[-0.07,1.25],[-0.3,1.59],[-0.49,1.98]],
];
const R_CB_LEVELS = [0, 1, 2, 3, 4, 5, 6, 7, 8];

const R_SL: P[][] = [
  [[-1.96,3.32],[-1.92,3.49],[-1.74,3.57],[-1.47,3.6],[-1.19,3.57],[-0.92,3.5],[-0.64,3.49],[-0.41,3.6],[-0.18,3.61],[0.09,3.49],[0.37,3.26],[0.6,3.04],[0.83,2.76],[1.05,2.43],[1.33,2.03],[1.6,1.59],[1.79,1.2],[1.92,0.8],[1.95,0.58],[1.83,0.41],[1.56,0.36],[1.37,0.25],[1.19,0.08],[0.92,0.02],[0.55,0.08],[0.18,0.19],[-0.18,0.41],[-0.46,0.64],[-0.64,0.92],[-0.78,1.25],[-0.92,1.7],[-1.1,2.03],[-1.37,2.26],[-1.65,2.59],[-1.83,2.93]],
  [[-1.63,3.04],[-1.6,3.21],[-1.42,3.29],[-1.1,3.26],[-0.83,3.18],[-0.55,3.21],[-0.28,3.33],[0.05,3.32],[0.32,3.1],[0.55,2.82],[0.78,2.48],[1.05,2.09],[1.33,1.7],[1.6,1.3],[1.76,0.92],[1.79,0.66],[1.6,0.55],[1.3,0.45],[1.05,0.33],[0.73,0.3],[0.37,0.39],[0.0,0.58],[-0.28,0.8],[-0.46,1.03],[-0.6,1.36],[-0.73,1.75],[-0.92,2.03],[-1.19,2.31],[-1.47,2.65]],
  [[-1.37,2.93],[-1.28,3.04],[-1.01,3.07],[-0.69,3.04],[-0.37,3.12],[-0.05,3.15],[0.23,2.98],[0.46,2.7],[0.69,2.37],[0.96,1.98],[1.24,1.59],[1.5,1.2],[1.65,0.86],[1.6,0.72],[1.3,0.65],[1.0,0.55],[0.64,0.53],[0.28,0.64],[-0.05,0.83],[-0.28,1.08],[-0.41,1.48],[-0.55,1.87],[-0.73,2.15],[-1.01,2.37],[-1.24,2.59]],
  [[-1.08,2.73],[-0.92,2.84],[-0.64,2.87],[-0.37,2.96],[-0.09,2.96],[0.18,2.82],[0.41,2.54],[0.64,2.15],[0.92,1.75],[1.2,1.4],[1.45,1.08],[1.56,0.88],[1.45,0.8],[1.15,0.82],[0.85,0.78],[0.69,0.69],[0.37,0.75],[0.05,0.97],[-0.18,1.25],[-0.28,1.59],[-0.46,1.92],[-0.64,2.15],[-0.87,2.43]],
  [[-0.69,2.54],[-0.55,2.68],[-0.28,2.79],[0.05,2.8],[0.34,2.62],[0.6,2.29],[0.87,1.92],[1.12,1.6],[1.35,1.25],[1.46,0.99],[1.35,0.93],[1.05,0.97],[0.73,1.0],[0.46,1.06],[0.18,1.14],[0.0,1.36],[-0.18,1.7],[-0.37,1.92],[-0.55,2.17]],
  [[-0.62,2.37],[-0.48,2.55],[-0.21,2.66],[0.1,2.65],[0.39,2.44],[0.64,2.09],[0.89,1.75],[1.12,1.5],[1.32,1.2],[1.36,1.07],[1.2,1.05],[0.94,1.12],[0.69,1.2],[0.41,1.36],[0.16,1.2],[0.02,1.26],[-0.13,1.53],[-0.28,1.81],[-0.45,2.03]],
  [[-0.51,2.26],[-0.4,2.46],[-0.13,2.58],[0.15,2.54],[0.43,2.32],[0.69,1.97],[0.89,1.72],[1.1,1.5],[1.25,1.25],[1.2,1.15],[0.98,1.22],[0.75,1.35],[0.48,1.5],[0.21,1.67],[-0.16,1.71],[-0.36,1.93]],
  [[-0.36,2.26],[-0.22,2.43],[0.05,2.46],[0.32,2.27],[0.6,1.95],[0.83,1.75],[1.02,1.55],[1.14,1.33],[1.08,1.27],[0.88,1.34],[0.66,1.45],[0.39,1.64],[0.12,1.85],[-0.16,1.92],[-0.31,2.03]],
  [[-0.18,2.25],[-0.05,2.36],[0.18,2.33],[0.46,2.08],[0.75,1.8],[0.93,1.6],[1.0,1.46],[0.93,1.42],[0.75,1.5],[0.6,1.58],[0.37,1.74],[0.12,1.91],[-0.12,2.03]],
];
const R_SL_LEVELS = [0, 1, 2, 3, 4, 5, 6, 7, 8];

// ---------- colours per facet (level index -> fill) ----------
const COLORS_L_FF = ['#4374ba', '#6f91c2', '#9aafcc', '#c8cfdc', '#eeeef2', '#f3e0e0', '#e8c6c6', '#d9a2a2', '#bb5b5b'];
const COLORS_L_SI = ['#4a7bbd', '#88a2c8', '#b7c3d8', '#e9e9ef', '#f1dcdc', '#e6b8b8', '#cc8080', '#bd6161', '#b04848'];
const COLORS_L_CB = ['#3f74bb', '#6b8dc0', '#8ea5ca', '#aebbd4', '#d9dce6', '#f5e9e9', '#dfb0b0', '#c98080', '#b55252'];
const COLORS_L_CH = ['#4a7bbd', '#88a2c8', '#b7c3d8', '#e9e9ef', '#f1dcdc', '#ddaeae', '#cc8080', '#bd6161', '#ae4747'];
const COLORS_L_SL = ['#4f7ebc', '#8fa6c9', '#c3cbdb', '#f0f0f4', '#f3e0e0', '#e3bcbc', '#d9a3a3', '#cc8282', '#b95858'];
const COLORS_R_FF = ['#4a7bbd', '#86a0c6', '#b5c1d6', '#e1e3ea', '#f7f0f0', '#e9cccc', '#deb0b0', '#d08a8a', '#b95858'];
const COLORS_R_SI = ['#4a7bbd', '#85a0c6', '#adbcd5', '#d5dbe6', '#f7f2f2', '#ecd2d2', '#dea8a8', '#cc8080', '#b85454'];
const COLORS_R_CB = ['#4a7bbd', '#839ec6', '#aebbd4', '#d0d5e1', '#efeff2', '#f5e6e6', '#e8c6c6', '#d49494', '#b95858'];
const COLORS_R_SL = ['#4f7ebc', '#93a9ca', '#c7cfdd', '#f1f0f3', '#f4e4e4', '#e6c3c3', '#d59898', '#c46b6b', '#b04848'];
const SINKER_WIDTHS = [1.4, 1.6, 2.0];

type Spec = { contours: P[][]; levels: number[]; colors: string[]; lines?: boolean };
const PANELS: Record<string, Spec> = {
  'L|4-Seam Fastball': { contours: L_FF, levels: L_FF_LEVELS, colors: COLORS_L_FF },
  'L|Sinker': { contours: L_SI_LINES, levels: L_SI_LEVELS, colors: COLORS_L_SI, lines: true },
  'L|Curveball': { contours: L_CB, levels: L_CB_LEVELS, colors: COLORS_L_CB },
  'L|Changeup': { contours: L_CH, levels: L_CH_LEVELS, colors: COLORS_L_CH },
  'L|Slider': { contours: L_SL, levels: L_SL_LEVELS, colors: COLORS_L_SL },
  'R|4-Seam Fastball': { contours: R_FF, levels: R_FF_LEVELS, colors: COLORS_R_FF },
  'R|Sinker': { contours: R_SI, levels: R_SI_LEVELS, colors: COLORS_R_SI },
  'R|Curveball': { contours: R_CB, levels: R_CB_LEVELS, colors: COLORS_R_CB },
  'R|Slider': { contours: R_SL, levels: R_SL_LEVELS, colors: COLORS_R_SL },
};

// ---------- layout ----------
const PLOT_LEFT = [46, 541, 1037, 1533, 2028];
const PLOT_TOP = [101, 546];
const PLOT_W = 481;
const PLOT_H = 418;
const Y_AXIS_W = 46;
const X_AXIS_H = 40;
const TITLE_H = 27;
const RIGHT_PAD = 5;
const CANVAS_W = Y_AXIS_W + PLOT_W + RIGHT_PAD;
const CANVAS_H = TITLE_H + PLOT_H + X_AXIS_H;

const LABEL_FONT = '"Liberation Sans", Arial, sans-serif';
const TITLE_FONT = '"Liberation Sans Narrow", "DejaVu Sans Condensed", "Liberation Sans", sans-serif';
const AXIS_COLOR = '#2b2b2b';
const TEXT_COLOR = '#333333';

function Panel({ row, col }: { row: number; col: number }) {
  const ref = useRef<HTMLCanvasElement>(null);

  useEffect(() => {
    const stand = STANDS[row];
    const pitch = PITCHES[col];
    const spec = PANELS[stand + '|' + pitch];
    const datasets: any[] = [];

    if (spec) {
      spec.contours.forEach((pts, i) => {
        const lvl = spec.levels[i];
        const color = spec.colors[lvl];
        if (spec.lines) {
          datasets.push({
            data: pts.map(([x, y]) => ({ x, y })),
            showLine: true, fill: false, borderColor: color, borderWidth: SINKER_WIDTHS[i],
            pointRadius: 0, tension: 0, order: 50 - i,
          });
        } else {
          const ring = [...pts, pts[0], pts[1]];
          datasets.push({
            data: ring.map(([x, y]) => ({ x, y })),
            showLine: true, fill: 'shape', backgroundColor: color, borderColor: color, borderWidth: 0.8,
            pointRadius: 0, tension: 0.4, order: 100 - lvl,
          });
        }
      });
    }

    datasets.push({
      data: ZONE_X.map((x, i) => ({ x, y: ZONE_Y[i] })),
      showLine: true, fill: false, borderColor: '#808080', borderWidth: 1.7,
      pointRadius: 0, tension: 0, order: -1,
    });

    const tickFont = { family: LABEL_FONT, size: 12 };
    const chart = new Chart(ref.current as HTMLCanvasElement, {
      type: 'scatter',
      data: { datasets },
      options: {
        responsive: false,
        animation: false,
        events: [],
        devicePixelRatio: 1,
        layout: { padding: { left: 0, right: RIGHT_PAD, top: 0, bottom: 0 } },
        elements: { line: { capBezierPoints: false }, point: { radius: 0 } },
        plugins: {
          legend: { display: false },
          tooltip: { enabled: false },
          title: {
            display: true,
            text: `stand = ${stand} | pitch_name = ${pitch}`,
            color: '#222222',
            font: { family: TITLE_FONT, size: 11, weight: 'normal', lineHeight: 1.309 },
            padding: { top: 9.8, bottom: 2.8 },
            fullSize: false,
          },
        },
        scales: {
          x: {
            type: 'linear', min: X_MIN, max: X_MAX,
            afterBuildTicks: (s: any) => { s.ticks = X_TICKS.map((v) => ({ value: v })); },
            afterFit: (s: any) => { s.height = X_AXIS_H; },
            ticks: { display: row === 1, padding: 1, font: tickFont, color: TEXT_COLOR, callback: (v: any) => String(v), maxRotation: 0 },
            grid: { display: true, drawOnChartArea: false, drawTicks: true, tickLength: 4, color: AXIS_COLOR, lineWidth: 1 },
            border: { display: true, color: AXIS_COLOR, width: 1.2 },
            title: {
              display: row === 1,
              text: '(' + ZONE_X.join(', ') + ')',
              color: TEXT_COLOR, font: tickFont, padding: { top: 0, bottom: 6.1 },
            },
          },
          y: {
            type: 'linear', min: Y_MIN, max: Y_MAX,
            afterBuildTicks: (s: any) => { s.ticks = Y_TICKS.map((v) => ({ value: v })); },
            afterFit: (s: any) => { s.width = Y_AXIS_W; },
            ticks: { display: col === 0, padding: 4, font: tickFont, color: TEXT_COLOR, callback: (v: any) => String(v) },
            grid: { display: true, drawOnChartArea: false, drawTicks: true, tickLength: 4, color: AXIS_COLOR, lineWidth: 1 },
            border: { display: true, color: AXIS_COLOR, width: 1.2 },
            title: {
              display: col === 0,
              text: '(' + ZONE_Y.join(', ') + ')',
              color: TEXT_COLOR, font: tickFont, padding: { top: 7.8, bottom: 0 },
            },
          },
        },
      } as any,
    });
    return () => chart.destroy();
  }, [row, col]);

  return (
    <canvas
      ref={ref}
      width={CANVAS_W}
      height={CANVAS_H}
      style={{
        position: 'absolute',
        left: PLOT_LEFT[col] - Y_AXIS_W,
        top: PLOT_TOP[row] - TITLE_H,
        width: CANVAS_W,
        height: CANVAS_H,
      }}
    />
  );
}

export default function App() {
  const cells: JSX.Element[] = [];
  for (let r = 0; r < STANDS.length; r++) {
    for (let c = 0; c < PITCHES.length; c++) {
      cells.push(<Panel key={`${r}-${c}`} row={r} col={c} />);
    }
  }
  return (
    <div style={{ position: 'absolute', left: 0, top: 0, width: 2520, height: 1008, background: '#ffffff', overflow: 'hidden' }}>
      {cells}
    </div>
  );
}
